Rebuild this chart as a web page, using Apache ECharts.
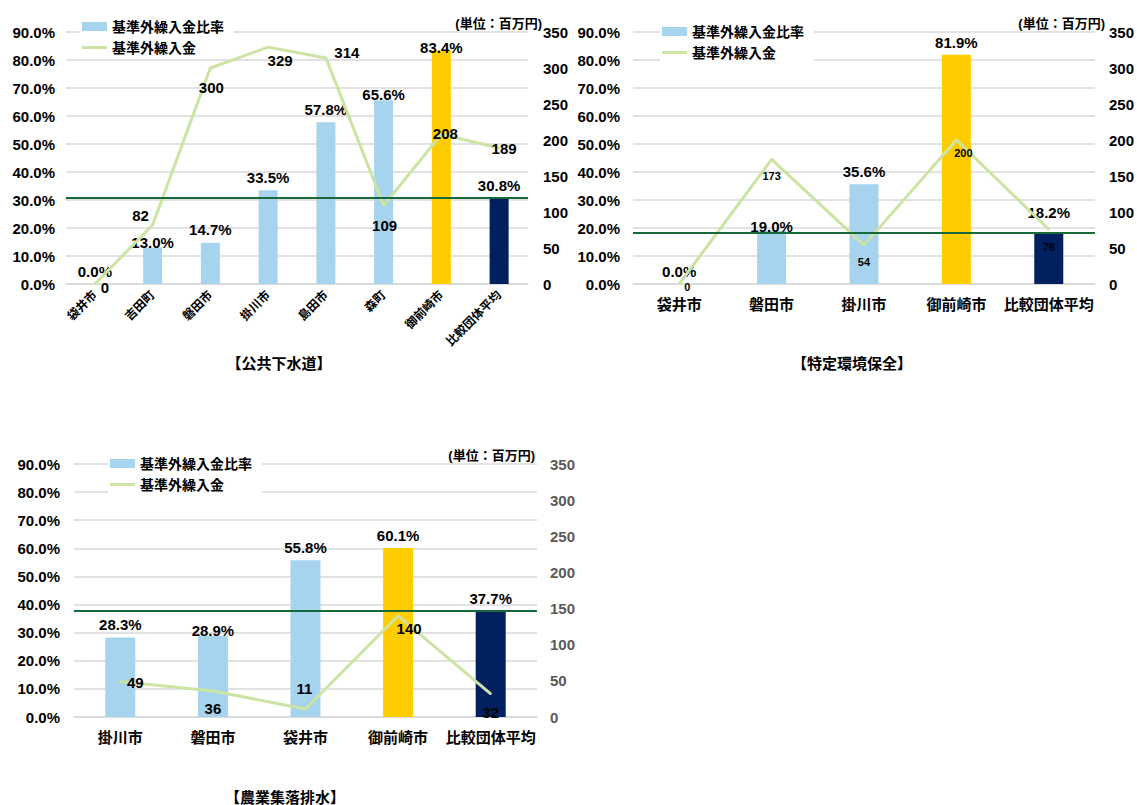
<!DOCTYPE html>
<html>
<head>
<meta charset="utf-8">
<script src="https://cdn.jsdelivr.net/npm/echarts@6/dist/echarts.min.js"></script>
<style>
  html, body { margin: 0; padding: 0; background: #fff; }
  #chart { width: 1137px; height: 805px; }
</style>
</head>
<body>
<div id="chart"></div>
<script>
// 公共下水道
const sewerCats = ['袋井市', '吉田町', '磐田市', '掛川市', '島田市', '森町', '御前崎市', '比較団体平均'];
const sewerRatio = [0.0, 13.0, 14.7, 33.5, 57.8, 65.6, 83.4, 30.8];
const sewerAmount = [0, 82, 300, 329, 314, 109, 208, 189];

// 特定環境保全
const envCats = ['袋井市', '磐田市', '掛川市', '御前崎市', '比較団体平均'];
const envRatio = [0.0, 19.0, 35.6, 81.9, 18.2];
const envAmount = [0, 173, 54, 200, 76];

// 農業集落排水
const agriCats = ['掛川市', '磐田市', '袋井市', '御前崎市', '比較団体平均'];
const agriRatio = [28.3, 28.9, 55.8, 60.1, 37.7];
const agriAmount = [49, 36, 11, 140, 32];

const ratioTicks = { min: 0, max: 90, interval: 10 };
const amountTicks = { min: 0, max: 350, interval: 50 };

const RATIO_NAME = '基準外繰入金比率';
const AMOUNT_NAME = '基準外繰入金';
const UNIT_TEXT = '(単位：百万円)';
const HOST = '御前崎市';
const AVG = '比較団体平均';

const FONT = "'Liberation Sans', 'Noto Sans CJK JP', sans-serif";
const C_BAR = '#a6d4ee';
const C_HOST = '#ffcc00';
const C_AVG = '#002060';
const C_LINE = '#cbe4a3';
const C_AVGLINE = '#17693a';
const C_GRID = '#d9d9d9';

// label offsets for the plotted values (pixels, relative to default placement)
const sewerBarShift = [0, 7, -1, 0, 0, 7, 10, 0];
const sewerLineShift = [[10, 3], [-12, -9], [1, 19], [12, 13], [21, -5], [1, 20], [4, -1], [5, 1]];
const envBarShift = [0, 8, 0, 0, -8];
const envLineShift = [[8, 3], [0, 17], [0, 17], [7, 13], [0, 18]];
const agriBarShift = [0, 7, 0, 0, 0];
const agriLineShift = [[15, 1], [0, 18], [-1, -21], [11, 13], [0, 19]];

const charts = [
  { cats: sewerCats, ratio: sewerRatio, amount: sewerAmount,
    grid: { left: 66, top: 32, width: 462, height: 252 }, barWidth: 19,
    rotate: true, xFont: 12, lineFont: 15, rightColor: '#000',
    barShift: sewerBarShift, lineShift: sewerLineShift,
    leftMargin: 11, rightMargin: 15,
    legend: { left: 80, top: 17 }, unit: { x: 542, y: 23 },
    title: { text: '【公共下水道】', x: 279, y: 363 } },
  { cats: envCats, ratio: envRatio, amount: envAmount,
    grid: { left: 633, top: 32, width: 464, height: 252 }, barWidth: 29,
    rotate: false, xFont: 15, lineFont: 11, rightColor: '#000',
    barShift: envBarShift, lineShift: envLineShift,
    leftMargin: 13, rightMargin: 14,
    legend: { left: 660, top: 22 }, unit: { x: 1105, y: 23 },
    title: { text: '【特定環境保全】', x: 852, y: 363 } },
  { cats: agriCats, ratio: agriRatio, amount: agriAmount,
    grid: { left: 74, top: 464, width: 463, height: 253 }, barWidth: 30,
    rotate: false, xFont: 15, lineFont: 15, rightColor: '#595959',
    barShift: agriBarShift, lineShift: agriLineShift,
    leftMargin: 14, rightMargin: 13,
    legend: { left: 108, top: 454 }, unit: { x: 535, y: 455 },
    title: { text: '【農業集落排水】', x: 285, y: 797 } }
];

const grid = [], xAxis = [], yAxis = [], series = [], legend = [], graphic = [];

charts.forEach((c, i) => {
  grid.push(Object.assign({ containLabel: false }, c.grid));

  xAxis.push({
    type: 'category', gridIndex: i, data: c.cats,
    axisTick: { show: false },
    axisLine: { show: true, lineStyle: { color: C_GRID, width: 1.5 } },
    axisLabel: {
      interval: 0, rotate: c.rotate ? 45 : 0, margin: c.rotate ? 9 : 13,
      fontFamily: FONT, fontSize: c.xFont, fontWeight: 'bold', color: '#000'
    }
  });

  yAxis.push({
    type: 'value', gridIndex: i, position: 'left',
    min: ratioTicks.min, max: ratioTicks.max, interval: ratioTicks.interval,
    axisLine: { show: false }, axisTick: { show: false },
    splitLine: { show: true, lineStyle: { color: C_GRID, width: 1.5 } },
    axisLabel: {
      margin: c.leftMargin, fontFamily: FONT, fontSize: 15, fontWeight: 'bold', color: '#000',
      formatter: v => v.toFixed(1) + '%'
    }
  });
  yAxis.push({
    type: 'value', gridIndex: i, position: 'right',
    min: amountTicks.min, max: amountTicks.max, interval: amountTicks.interval,
    axisLine: { show: false }, axisTick: { show: false },
    splitLine: { show: false },
    axisLabel: {
      margin: c.rightMargin, fontFamily: FONT, fontSize: 15, fontWeight: 'bold', color: c.rightColor
    }
  });

  const avgIdx = c.cats.indexOf(AVG);

  series.push({
    name: RATIO_NAME, type: 'bar',
    xAxisIndex: i, yAxisIndex: i * 2,
    barWidth: c.barWidth,
    itemStyle: { color: C_BAR },
    data: c.ratio.map((v, k) => {
      const item = { value: v, label: { offset: [0, c.barShift[k]] } };
      if (c.cats[k] === HOST) item.itemStyle = { color: C_HOST };
      if (c.cats[k] === AVG) item.itemStyle = { color: C_AVG };
      return item;
    }),
    label: {
      show: true, position: 'top', distance: 5,
      fontFamily: FONT, fontSize: 15, fontWeight: 'bold', color: '#000',
      formatter: p => p.value.toFixed(1) + '%'
    },
    markLine: {
      silent: true, symbol: 'none', label: { show: false },
      lineStyle: { color: C_AVGLINE, width: 2, type: 'solid' },
      data: [{ yAxis: c.ratio[avgIdx] }]
    },
    z: 2
  });

  series.push({
    name: AMOUNT_NAME, type: 'line',
    xAxisIndex: i, yAxisIndex: i * 2 + 1,
    symbol: 'circle', symbolSize: 2, showSymbol: true,
    itemStyle: { color: C_LINE },
    lineStyle: { color: C_LINE, width: 3 },
    data: c.amount.map((v, k) => ({ value: v, label: { offset: c.lineShift[k] } })),
    label: {
      show: true, position: 'inside',
      fontFamily: FONT, fontSize: c.lineFont, fontWeight: 'bold', color: '#000'
    },
    z: 4
  });

  legend.push({
    orient: 'vertical', left: c.legend.left, top: c.legend.top,
    backgroundColor: '#fff', padding: [2, 10, 2, 2],
    itemWidth: 25, itemHeight: 9, itemGap: 6,
    selectedMode: false,
    textStyle: { fontFamily: FONT, fontSize: 14, fontWeight: 'bold', color: '#000', lineHeight: 15 },
    data: [
      { name: RATIO_NAME, icon: 'rect' },
      { name: AMOUNT_NAME, icon: 'path://M0,0 H25 V3 H0 Z', itemStyle: { color: C_LINE } }
    ]
  });

  graphic.push({
    type: 'text', x: c.unit.x, y: c.unit.y, z: 10,
    style: {
      text: UNIT_TEXT, align: 'right', verticalAlign: 'middle',
      font: 'bold 13px ' + FONT, fill: '#000'
    }
  });
  graphic.push({
    type: 'text', x: c.title.x, y: c.title.y, z: 10,
    style: {
      text: c.title.text, align: 'center', verticalAlign: 'middle',
      font: 'bold 15px ' + FONT, fill: '#000'
    }
  });
});

const chart = echarts.init(document.getElementById('chart'), null, { renderer: 'svg' });
chart.setOption({
  animation: false,
  backgroundColor: '#fff',
  textStyle: { fontFamily: FONT },
  grid, xAxis, yAxis, series, legend, graphic
});
</script>
</body>
</html>
